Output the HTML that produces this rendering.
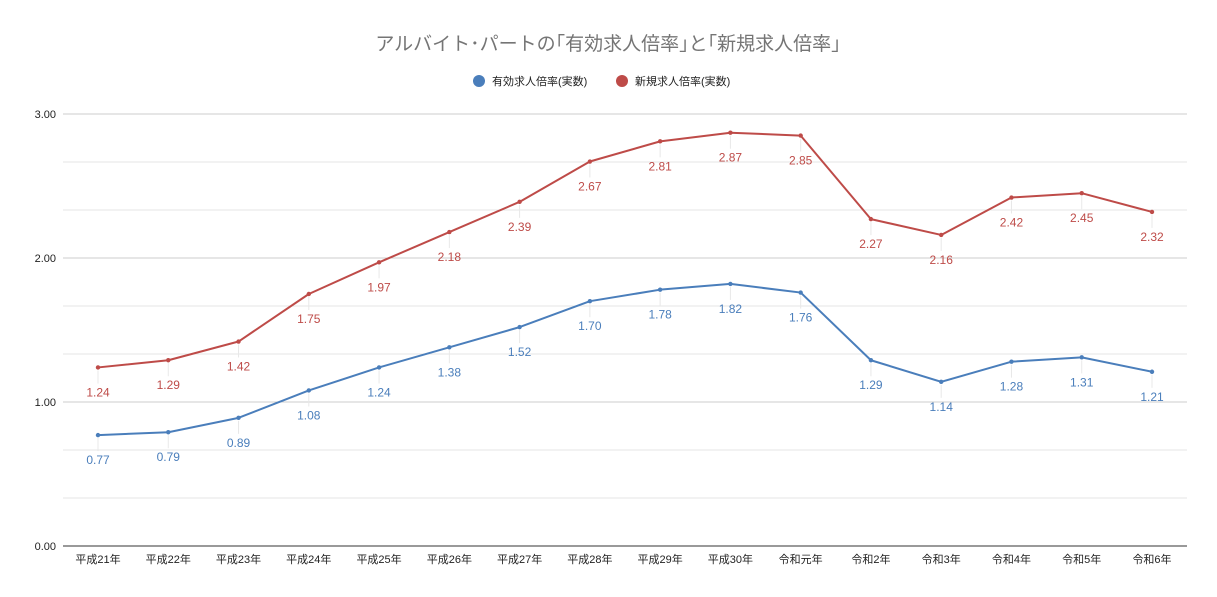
<!DOCTYPE html>
<html><head><meta charset="utf-8">
<style>
body{margin:0;background:#fff;}
svg{display:block;font-family:"Liberation Sans","Noto Sans CJK JP",sans-serif;}
</style></head>
<body>
<svg id="chart" width="1217" height="597">
<text x="608" y="50" text-anchor="middle" font-size="19" fill="#757575">アルバイト･パートの｢有効求人倍率｣と｢新規求人倍率｣</text>
<g>
<circle cx="479" cy="81" r="6" fill="#4a7ebb"/>
<text x="492" y="85" font-size="11" fill="#222">有効求人倍率(実数)</text>
<circle cx="622" cy="81" r="6" fill="#be4b48"/>
<text x="635" y="85" font-size="11" fill="#222">新規求人倍率(実数)</text>
</g>
<g id="grid"></g><g id="marks"></g>
</svg>
<script>
const categories=["平成21年","平成22年","平成23年","平成24年","平成25年","平成26年","平成27年","平成28年","平成29年","平成30年","令和元年","令和2年","令和3年","令和4年","令和5年","令和6年"];
const effective=[0.77,0.79,0.89,1.08,1.24,1.38,1.52,1.70,1.78,1.82,1.76,1.29,1.14,1.28,1.31,1.21];
const newJobs=[1.24,1.29,1.42,1.75,1.97,2.18,2.39,2.67,2.81,2.87,2.85,2.27,2.16,2.42,2.45,2.32];
const yTicks=["0.00","1.00","2.00","3.00"];
const NS="http://www.w3.org/2000/svg";
const L=63,R=1187,Y0=546,Y3=114;
const xs=i=>98+i*(1152-98)/(categories.length-1);
const ys=v=>Y0-(Y0-Y3)*v/3;
function mk(t,a,p){const e=document.createElementNS(NS,t);for(const k in a)e.setAttribute(k,a[k]);p.appendChild(e);return e;}
const grid=document.getElementById('grid'),marks=document.getElementById('marks');
for(let k=1;k<=9;k++){const v=k/3;const l=mk('line',{x1:L,x2:R,y1:ys(v),y2:ys(v),stroke:k%3==0?'#cccccc':'#e6e6e6','stroke-width':1},grid);

}
yTicks.forEach((t,i)=>{const e=mk('text',{x:56,y:ys(i)+4,'text-anchor':'end','font-size':11,fill:'#222'},grid);e.textContent=t;

});
const ax=mk('line',{x1:L,x2:R,y1:Y0,y2:Y0,stroke:'#333','stroke-width':1},grid);


categories.forEach((c,i)=>{const e=mk('text',{x:xs(i),y:563,'text-anchor':'middle','font-size':11,fill:'#222'},grid);e.textContent=c;

});
function series(arr,color,name){
 const g=mk('g',{},marks);
 
 
 arr.forEach((v,i)=>{const l=mk('line',{x1:xs(i),x2:xs(i),y1:ys(v)+3,y2:ys(v)+16,stroke:'#e8e8e8'},g);
  
  });
 const p=mk('polyline',{points:arr.map((v,i)=>xs(i)+','+ys(v)).join(' '),fill:'none',stroke:color,'stroke-width':2,'stroke-linejoin':'round'},g);
 
 
 arr.forEach((v,i)=>{const c=mk('circle',{cx:xs(i),cy:ys(v),r:2.2,fill:color},g);
  
  
  const t=mk('text',{x:xs(i),y:ys(v)+29,'text-anchor':'middle','font-size':12,fill:color},g);t.textContent=v.toFixed(2);
  
  });
}
series(effective,'#4a7ebb','effective');
series(newJobs,'#be4b48','new');
</script>
</body></html>
